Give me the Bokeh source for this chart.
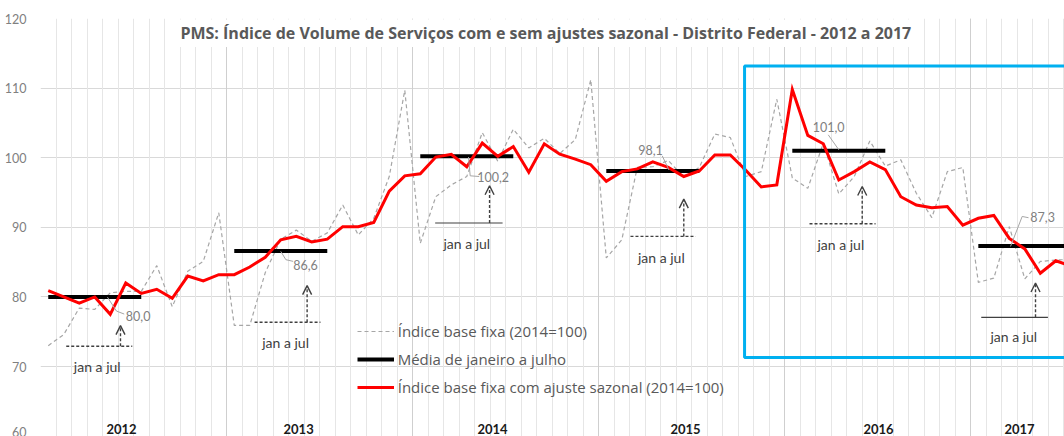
import numpy as np
from bokeh.plotting import figure
from bokeh.models import (Range1d, FixedTicker, Grid, Legend, LegendItem, Arrow,
                          OpenHead, ColumnDataSource)
from bokeh.core.properties import value
from bokeh.embed import file_html
from bokeh.resources import INLINE

# ---------------- data ----------------
anos = ["2012", "2013", "2014", "2015", "2016", "2017"]

indice_base_fixa = [
    73.0, 74.6, 78.4, 78.2, 80.6, 80.8, 80.8, 84.5, 78.6, 83.7, 85.1, 92.1,      # 2012
    75.9, 75.9, 83.5, 88.3, 89.6, 88.0, 89.2, 93.2, 88.9, 91.3, 97.3, 109.7,     # 2013
    87.7, 94.4, 96.1, 97.3, 103.6, 99.5, 104.1, 101.4, 102.8, 100.6, 102.6, 111.2,  # 2014
    85.6, 88.2, 98.6, 98.7, 99.6, 97.2, 98.6, 103.4, 102.9, 97.3, 98.0, 108.4,   # 2015
    97.1, 95.6, 102.1, 94.8, 97.3, 102.4, 98.8, 99.7, 94.9, 91.4, 98.0, 98.6,    # 2016
    82.1, 82.7, 90.1, 82.6, 85.1, 85.3, 85.4,                                    # 2017
]

indice_ajustado = [
    80.9, 80.0, 79.1, 80.0, 77.5, 82.0, 80.5, 81.1, 79.8, 83.0, 82.3, 83.2,      # 2012
    83.2, 84.3, 85.7, 88.2, 88.7, 87.9, 88.3, 90.1, 90.1, 90.7, 95.2, 97.4,      # 2013
    97.7, 100.1, 100.5, 98.7, 102.1, 100.2, 101.6, 97.9, 102.0, 100.5, 99.8, 99.0,  # 2014
    96.6, 98.0, 98.4, 99.4, 98.6, 97.3, 98.1, 100.4, 100.4, 98.2, 95.8, 96.1,    # 2015
    109.8, 103.2, 102.0, 96.8, 98.0, 99.4, 98.3, 94.4, 93.2, 92.8, 93.0, 90.3,   # 2016
    91.3, 91.7, 88.4, 86.9, 83.4, 85.2, 84.4,                                    # 2017
]

media_jan_jul = [80.0, 86.6, 100.2, 98.1, 101.0, 87.3]
rotulos_media = ["80,0", "86,6", "100,2", "98,1", "101,0", "87,3"]
y_ticks = [60, 70, 80, 90, 100, 110, 120]

titulo = ("PMS: Índice de Volume de Serviços com e sem ajustes sazonal - "
          "Distrito Federal - 2012 a 2017")
nomes_series = ["Índice base fixa (2014=100)", "Média de janeiro a julho",
                "Índice base fixa com ajuste sazonal (2014=100)"]

# ---------------- figure ----------------
FONT = "Lato"
FONT_W = "Open Sans"
n = len(indice_ajustado)
x = np.arange(n) + 0.5
year_start = np.arange(len(anos)) * 12

p = figure(width=1064, height=436, output_backend="svg", toolbar_location=None,
           title=None, x_axis_location=None,
           x_range=Range1d(0, 66.06), y_range=Range1d(59.95, 120),
           min_border_left=40, min_border_right=0, min_border_top=18,
           min_border_bottom=0)
p.outline_line_color = None
p.background_fill_color = "white"
p.border_fill_color = "white"

# y axis
p.yaxis.ticker = FixedTicker(ticks=y_ticks)
p.yaxis.axis_line_color = None
p.yaxis.major_tick_line_color = None
p.yaxis.minor_tick_line_color = None
p.yaxis.major_label_standoff = 8
p.yaxis.major_label_text_font = FONT
p.yaxis.major_label_text_font_size = "12.5px"
p.yaxis.major_label_text_color = "#808080"
p.ygrid.ticker = FixedTicker(ticks=y_ticks)
p.ygrid.grid_line_color = "#d9d9d9"

# vertical month / year grid lines
month_grid = Grid(dimension=0, ticker=FixedTicker(ticks=list(range(0, n + 1))),
                  grid_line_color="#e6e6e6", grid_line_width=1)
year_grid = Grid(dimension=0, ticker=FixedTicker(ticks=[int(s) for s in year_start[1:]]),
                 grid_line_color="#cfcfcf", grid_line_width=1)
p.add_layout(month_grid, "center")
p.add_layout(year_grid, "center")

# title with white box
p.quad(left=8.9, right=56.3, bottom=115.9, top=119.85, fill_color="white",
       line_color=None)
p.text(x=[32.6], y=[117.95], text=[titulo], text_font=value(FONT_W),
       text_font_style="bold", text_font_size="16px", text_color="#595959",
       text_align="center", text_baseline="middle")

# series
r_gray = p.line(x, indice_base_fixa, line_color="#a6a6a6", line_width=1.2,
                line_dash="4 3")
r_black = p.segment(x0=year_start + 0.5, x1=year_start + 6.5, y0=media_jan_jul,
                    y1=media_jan_jul, line_color="black", line_width=4)
r_red = p.line(x, indice_ajustado, line_color="#ff0000", line_width=3,
               line_join="miter")

# data labels for averages with leader lines
lab_x = [6.3, 17.1, 29.2, 39.35, 50.84, 64.65]
lab_y = [77.2, 84.6, 97.3, 101.13, 104.48, 91.48]
p.text(x=lab_x, y=lab_y, text=rotulos_media, text_font=value(FONT),
       text_font_size="12.5px", text_color="#808080", text_align="center",
       text_baseline="middle")
leader_xs = [[4.32, 4.90, 5.40], [15.5, 15.83, 16.3], [27.61, 27.72, 28.3],
             [40.11, 40.54], [50.82, 51.5], [63.74, 63.33, 62.58]]
leader_ys = [[79.97, 77.97, 77.54], [86.54, 85.35, 85.11], [100.09, 97.4, 97.3],
             [100.27, 98.25], [103.29, 101.14], [91.38, 91.56, 87.26]]
p.multi_line(xs=leader_xs, ys=leader_ys, line_color="#a6a6a6", line_width=1)

# "jan a jul" annotations
dash_x0 = [1.66, 13.81, 38.06, 49.61]
dash_x1 = [5.92, 18.06, 42.26, 53.87]
dash_y = [72.91, 76.36, 88.70, 90.52]
p.segment(x0=dash_x0, x1=dash_x1, y0=dash_y, y1=dash_y,
          line_color="#404040", line_width=1.4, line_dash="3 2")
solid_x0 = [25.46, 60.69]
solid_x1 = [29.81, 64.99]
solid_y = [90.62, 77.07]
p.segment(x0=solid_x0, x1=solid_x1, y0=solid_y, y1=solid_y,
          line_color="#404040", line_width=1.2)

arrow_src = ColumnDataSource(dict(
    xs=[5.16, 17.2, 28.97, 41.5, 53.01, 64.19],
    ys=[72.91, 76.36, 90.62, 88.70, 90.52, 77.07],
    ye=[75.88, 81.62, 95.97, 94.06, 95.87, 82.0]))
p.add_layout(Arrow(source=arrow_src, x_start="xs", y_start="ys", x_end="xs", y_end="ye",
                   line_color="#404040", line_width=1.4, line_dash="3 2",
                   end=OpenHead(size=9, line_color="#404040", line_width=1.4)))

p.text(x=[3.66, 15.81, 27.5, 40.05, 51.63, 62.79],
       y=[70.04, 73.40, 87.65, 85.7, 87.5, 74.26],
       text=["jan a jul"] * 6, text_font=value(FONT), text_font_size="14px",
       text_color="#404040", text_align="center", text_baseline="middle")

# year labels
p.text(x=[5.23, 16.65, 29.16, 41.61, 54.06, 63.16], y=[61.0] * 6, text=anos,
       text_font=value(FONT), text_font_style="bold", text_font_size="13px",
       text_color="#1a1a1a", text_align="center", text_baseline="middle")

# highlight box
p.quad(left=45.42, right=80, top=113.19, bottom=71.29, fill_color=None,
       line_color="#00B0F0", line_width=3)

legend = Legend(items=[LegendItem(label=nomes_series[0], renderers=[r_gray]),
                       LegendItem(label=nomes_series[1], renderers=[r_black]),
                       LegendItem(label=nomes_series[2], renderers=[r_red])],
                location=(316.7, 39), orientation="vertical",
                glyph_width=37, glyph_height=20, label_height=20, spacing=8,
                padding=0, margin=0, label_standoff=4,
                label_text_font=FONT_W, label_text_font_size="15px",
                label_text_color="#595959",
                background_fill_alpha=0, border_line_alpha=0)
p.add_layout(legend, "center")

open("out.html", "w").write(file_html(p, INLINE))
